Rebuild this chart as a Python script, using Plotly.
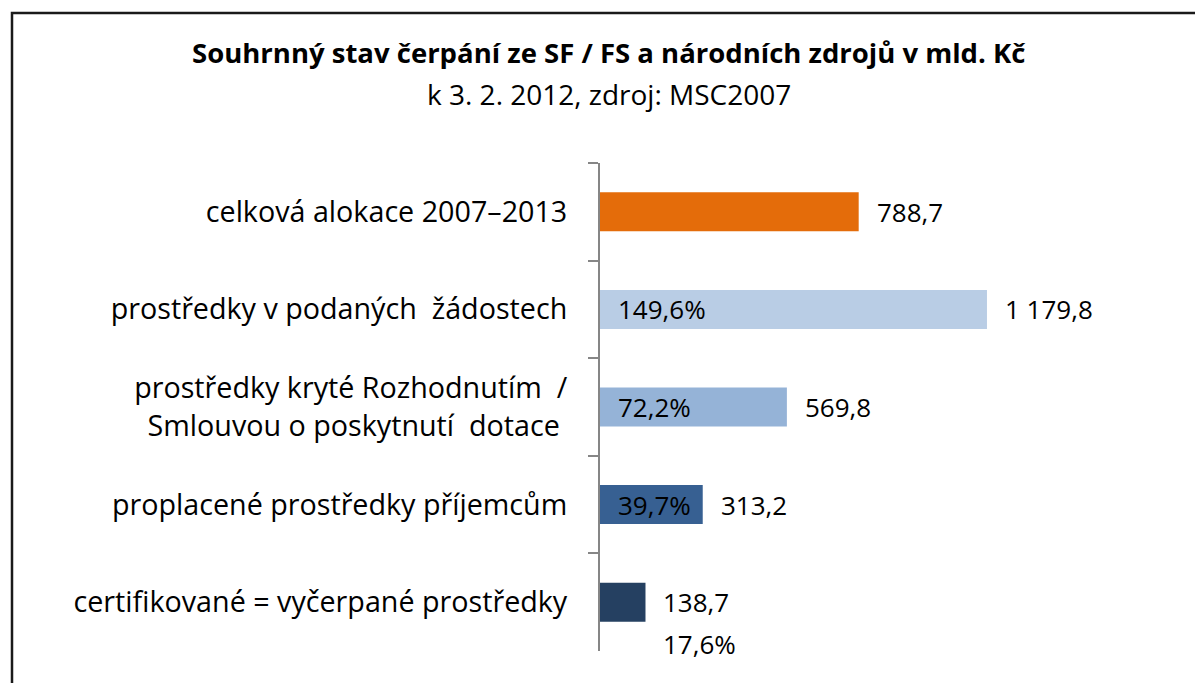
import plotly.graph_objects as go

categories = [
    "celková alokace 2007–2013",
    "prostředky v podaných  žádostech",
    "prostředky kryté Rozhodnutím  /<br>Smlouvou o poskytnutí  dotace ",
    "proplacené prostředky příjemcům",
    "certifikované = vyčerpané prostředky",
]
values = [788.7, 1179.8, 569.8, 313.2, 138.7]
value_labels = ["788,7", "1 179,8", "569,8", "313,2", "138,7"]
pct_labels = ["", "149,6%", "72,2%", "39,7%", "17,6%"]
colors = ["#E46C0A", "#B9CDE5", "#95B3D7", "#376092", "#254061"]

FONT = "Open Sans"
W, H = 1195, 683
L, R, T, B = 600, 45, 163, 32
pw, ph = W - L - R, H - T - B

fig = go.Figure(go.Bar(
    y=categories, x=values, orientation="h",
    marker=dict(color=colors, line=dict(width=0)),
    hoverinfo="skip",
))

VS = 26
ann = []
for i, (c, v) in enumerate(zip(categories, values)):
    ann.append(dict(x=v, y=c, xref="x", yref="y", text=value_labels[i],
                    showarrow=False, xanchor="left", xshift=16,
                    font=dict(family=FONT, size=VS, color="black")))
    if pct_labels[i]:
        if i < 4:
            ann.append(dict(x=0, y=c, xref="x", yref="y", text=pct_labels[i],
                            showarrow=False, xanchor="left", xshift=16,
                            font=dict(family=FONT, size=VS, color="black")))
        else:
            ann.append(dict(x=v, y=c, xref="x", yref="y", text=pct_labels[i],
                            showarrow=False, xanchor="left", xshift=16, yshift=-42,
                            font=dict(family=FONT, size=VS, color="black")))

def px_x(p):
    return (p - L) / pw

def px_y(p):
    return (H - B - p) / ph

ann.append(dict(x=px_x(608), y=px_y(53), xref="paper", yref="paper",
                text="<b>Souhrnný stav čerpání ze SF / FS a národních zdrojů v mld. Kč</b>",
                showarrow=False, xanchor="center", yanchor="middle",
                font=dict(family=FONT, size=27.5, color="black")))
ann.append(dict(x=px_x(609), y=px_y(94), xref="paper", yref="paper",
                text="k 3. 2. 2012, zdroj: MSC2007",
                showarrow=False, xanchor="center", yanchor="middle",
                font=dict(family=FONT, size=28, color="black")))

fig.update_layout(
    width=W, height=H,
    margin=dict(l=L, r=R, t=T, b=B),
    paper_bgcolor="white", plot_bgcolor="white",
    bargap=0.6,
    showlegend=False,
    annotations=ann,
    shapes=[dict(type="rect", xref="paper", yref="paper",
                 x0=px_x(12), x1=px_x(1220), y0=px_y(13), y1=px_y(720),
                 line=dict(color="#1a1a1a", width=2.5), layer="above")],
    xaxis=dict(range=[0, pw / 0.328], visible=False, fixedrange=True),
    yaxis=dict(autorange="reversed", showline=True, linecolor="#868686", linewidth=2,
               ticks="outside", ticklen=10, tickcolor="#868686", tickwidth=2,
               tickson="boundaries", showgrid=False, zeroline=False,
               ticklabelstandoff=25,
               tickfont=dict(family=FONT, size=28.7, color="black")),
)

fig.write_html("out.html", config={"displayModeBar": False},
               post_script="document.body.style.margin='0';document.body.style.overflow='hidden';")
